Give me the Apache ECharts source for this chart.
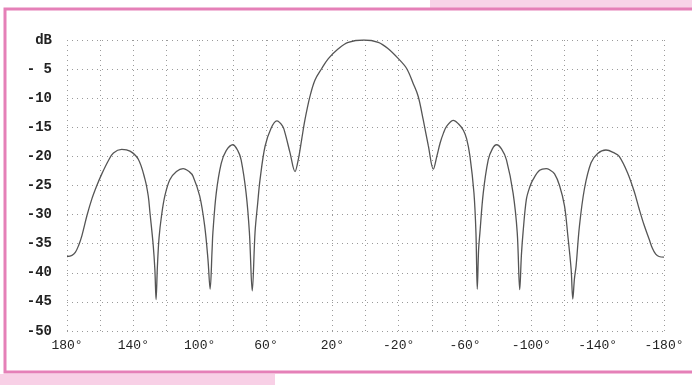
<!DOCTYPE html>
<html>
<head>
<meta charset="utf-8">
<script src="https://cdn.jsdelivr.net/npm/echarts@6/dist/echarts.min.js"></script>
<style>
  html, body { margin: 0; padding: 0; background: #fff; }
  #chart { width: 692px; height: 385px; }
</style>
</head>
<body>
<div id="chart"></div>
<script>
// angle (deg), from 180 down to -180
let angles = [
  180, 177, 175, 173, 171, 168, 165, 162, 159, 155, 152, 147, 142, 137, 133, 131,
  130, 128, 127, 126.3, 125.5, 124.5, 123, 121, 118, 114, 110, 106, 104, 100, 97, 95, 93.7, 92.5, 92, 90,
  87, 84, 80, 77, 75, 72, 70, 68.3, 66.6, 65, 63.6, 60.6, 57, 53.5, 50, 48.5, 45.5, 42.5, 40.5, 38.5, 36.5,
  33.5, 30.5, 26.4, 22.4, 16.4, 10.4, 1, -7.7, -13.7, -19.8, -24.8, -28.8, -31.8, -34.8, -37.9, -40.9, -43, -45, -47, -49,
  -53, -56, -59, -61, -63, -65.4, -66.6, -67.4, -68.2, -69, -71, -74, -76.5, -79, -82, -85, -89, -91.5, -93, -94,
  -95, -97, -99, -101, -105, -109, -111, -114, -117, -120, -122, -124, -125, -126, -127, -129, -132, -136, -140, -145,
  -150, -153, -158, -162, -165, -168, -171, -173, -175, -177, -180
]
// gain (dB) at each angle
let gains = [
  -37.2, -37.0, -36.5, -35.3, -33.6, -30.2, -27.3, -25.0, -23.0, -20.7, -19.4, -18.8, -19.1, -20.5, -23.9, -26.8,
  -29.6, -35.3, -39.5, -44.6, -39.0, -34.0, -30.2, -26.8, -24.0, -22.6, -22.1, -22.7, -23.4, -26.8, -31.9, -37.7, -42.8, -36.0, -33.0, -26.3,
  -21.2, -19.0, -18.0, -19.0, -20.6, -26.3, -33.1, -43.1, -33.0, -28.0, -24.0, -18.3, -15.2, -13.9, -14.8, -16.0, -19.4, -22.6, -20.5, -17.1, -13.7,
  -9.7, -6.9, -4.9, -3.2, -1.5, -0.4, 0, -0.4, -1.5, -3.2, -4.9, -7.5, -9.7, -13.7, -18.2, -22.2, -20.0, -17.7, -16.0, -14.8,
  -13.8, -14.4, -15.5, -17.0, -20.0, -26.3, -33.1, -42.8, -36.0, -33.1, -26.3, -20.6, -18.7, -18.0, -18.7, -20.6, -26.3, -33.1, -42.9, -37.0,
  -33.1, -27.4, -25.3, -24.0, -22.4, -22.1, -22.3, -23.0, -25.0, -28.5, -33.6, -39.4, -44.5, -41.0, -38.8, -32.0, -25.6, -21.1, -19.5, -18.9,
  -19.4, -20.0, -22.8, -26.0, -29.0, -31.8, -34.2, -35.8, -36.8, -37.2, -37.3
]
// tick labels
let xTickLabels = ['180°', '140°', '100°', '60°', '20°', '-20°', '-60°', '-100°', '-140°', '-180°']
let yTickLabels = ['dB', '- 5', '-10', '-15', '-20', '-25', '-30', '-35', '-40', '-45', '-50']

let chart = echarts.init(document.getElementById('chart'))

let points = angles.map(function (a, i) {
  return [a, gains[i]]
})

let option = {
  backgroundColor: '#ffffff',
  animation: false,
  graphic: [
    { type: 'rect', shape: { x: 430, y: 0, width: 262, height: 8 }, style: { fill: '#f8d3e8' } },
    { type: 'rect', shape: { x: 0, y: 374, width: 275, height: 11 }, style: { fill: '#f8d0e6' } },
    { type: 'rect', shape: { x: 5, y: 9, width: 700, height: 363 }, style: { fill: 'none', stroke: '#e580b8', lineWidth: 3 } }
  ],
  grid: {
    left: 67,
    right: 28,
    top: 40,
    bottom: 54
  },
  xAxis: {
    type: 'value',
    min: -180,
    max: 180,
    interval: 20,
    inverse: true,
    axisLine: { show: false },
    axisTick: { show: false },
    splitLine: {
      show: true,
      lineStyle: { color: '#9a9a9a', type: [1, 4], width: 1 }
    },
    axisLabel: {
      margin: 8,
      color: '#222',
      fontFamily: 'Liberation Mono',
      fontSize: 13,
      formatter: function (v) {
        let idx = (180 - v) / 40
        return Number.isInteger(idx) ? xTickLabels[idx] : ''
      }
    }
  },
  yAxis: {
    type: 'value',
    min: -50,
    max: 0,
    interval: 5,
    axisLine: { show: false },
    axisTick: { show: false },
    splitLine: {
      show: true,
      lineStyle: { color: '#9a9a9a', type: [1, 4], width: 1 }
    },
    axisLabel: {
      margin: 15,
      color: '#222',
      fontFamily: 'Liberation Mono',
      fontWeight: 'bold',
      fontSize: 14,
      formatter: function (v) {
        return yTickLabels[Math.round(-v / 5)]
      }
    }
  },
  series: [
    {
      type: 'line',
      data: points,
      showSymbol: false,
      smooth: 0.35,
      lineStyle: { color: '#555', width: 1.3 }
    }
  ]
}

chart.setOption(option)
</script>
</body>
</html>
